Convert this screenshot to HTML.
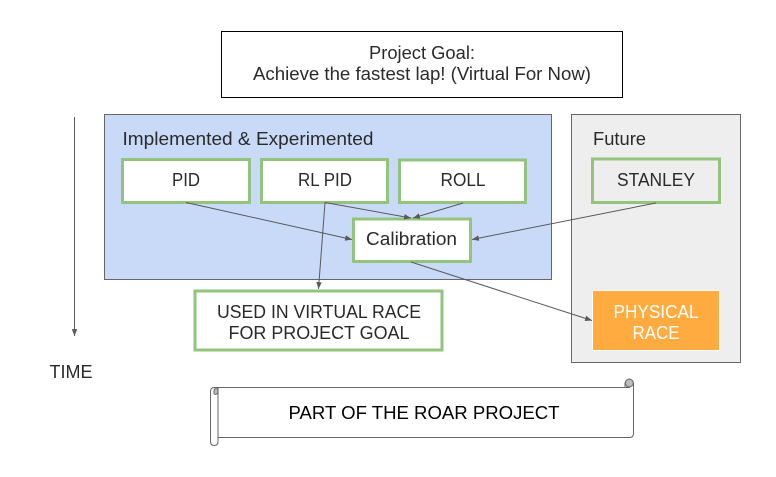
<!DOCTYPE html>
<html>
<head>
<meta charset="utf-8">
<style>
html,body{margin:0;padding:0;background:#fff;width:776px;height:477px;overflow:hidden}
svg{display:block}
text{font-family:"Liberation Sans",sans-serif;font-size:18px;fill:#2a2a2a;text-anchor:middle}
</style>
</head>
<body>
<svg width="776" height="477" viewBox="0 0 776 477" xmlns="http://www.w3.org/2000/svg">
<defs>
<marker id="a" viewBox="0 0 10 8" refX="10" refY="4" markerWidth="7" markerHeight="5.5" markerUnits="userSpaceOnUse" orient="auto">
<path d="M0 0L10 4L0 8Z" fill="#595959"/>
</marker>
</defs>

<rect x="221.5" y="31.5" width="401" height="66" fill="#fff" stroke="#000" stroke-width="1"/>
<text x="422" y="59" textLength="106" lengthAdjust="spacingAndGlyphs">Project Goal:</text>
<text x="422" y="80" textLength="338" lengthAdjust="spacingAndGlyphs">Achieve the fastest lap! (Virtual For Now)</text>

<rect x="104.5" y="114.5" width="447" height="165" fill="#c9daf8" stroke="#666"/>
<rect x="571.5" y="114.5" width="169" height="248" fill="#eee" stroke="#666"/>
<text x="248" y="145" textLength="251" lengthAdjust="spacingAndGlyphs">Implemented &amp; Experimented</text>
<text x="619.5" y="145" textLength="53" lengthAdjust="spacingAndGlyphs">Future</text>

<g fill="#fff" stroke="#93c47d" stroke-width="3">
<rect x="122.5" y="159.5" width="127" height="43"/>
<rect x="261.5" y="159.5" width="126" height="43"/>
<rect x="399.5" y="160" width="126" height="42.5"/>
<rect x="353.5" y="219" width="117" height="42.5"/>
<rect x="195" y="291" width="247" height="59"/>
<rect x="592.5" y="159" width="127" height="43.5" fill="#eee"/>
</g>
<rect x="592.5" y="290.5" width="127" height="60" fill="#ffab40" stroke="#fff"/>

<text x="186" y="186" textLength="28" lengthAdjust="spacingAndGlyphs">PID</text>
<text x="325" y="186" textLength="54" lengthAdjust="spacingAndGlyphs">RL PID</text>
<text x="463" y="186" textLength="45" lengthAdjust="spacingAndGlyphs">ROLL</text>
<text x="656" y="186" textLength="78" lengthAdjust="spacingAndGlyphs">STANLEY</text>
<text x="411.5" y="245" textLength="91" lengthAdjust="spacingAndGlyphs">Calibration</text>
<text x="319" y="318" textLength="204" lengthAdjust="spacingAndGlyphs">USED IN VIRTUAL RACE</text>
<text x="319" y="339" textLength="181" lengthAdjust="spacingAndGlyphs">FOR PROJECT GOAL</text>
<text x="656" y="318" textLength="85" lengthAdjust="spacingAndGlyphs" style="fill:#fff">PHYSICAL</text>
<text x="656" y="339" textLength="47" lengthAdjust="spacingAndGlyphs" style="fill:#fff">RACE</text>
<text x="71" y="378" textLength="43" lengthAdjust="spacingAndGlyphs">TIME</text>

<g stroke="#595959" stroke-width="1" fill="none" marker-end="url(#a)">
<line x1="186" y1="202.5" x2="352" y2="239.5"/>
<line x1="325" y1="202.5" x2="411" y2="218"/>
<line x1="325" y1="202.5" x2="318.5" y2="289"/>
<line x1="463" y1="203" x2="413" y2="218"/>
<line x1="656" y1="203" x2="472" y2="239.5"/>
<line x1="411" y1="262" x2="592" y2="320.5"/>
<line x1="74.5" y1="117" x2="74.5" y2="336"/>
</g>

<g stroke="#666" stroke-width="1">
<path d="M218 387.5H625V383.5A4.3 4.3 0 0 1 633.5 383.5V433.5Q633.5 437.5 629.5 437.5H218Z" fill="#fff"/>
<path d="M625 387.5H629.5V383.5A2.2 2.2 0 0 0 627 383.5V387" fill="#bbb"/>
<circle cx="629.3" cy="383" r="4" fill="#bbb"/>
<path d="M214.5 387.5H218V441.5Q218 445.5 214.2 445.5Q210.5 445.5 210.5 441.5V391.5Q210.5 387.5 214.5 387.5Z" fill="#fff"/>
<path d="M214.5 394.5Q218 394.5 218 391.5Q218 388.5 216 388.5Q214 388.5 214 391.5V394" fill="#bbb"/>
</g>
<text x="424" y="419" textLength="271" lengthAdjust="spacingAndGlyphs" style="fill:#000">PART OF THE ROAR PROJECT</text>
</svg>
</body>
</html>
